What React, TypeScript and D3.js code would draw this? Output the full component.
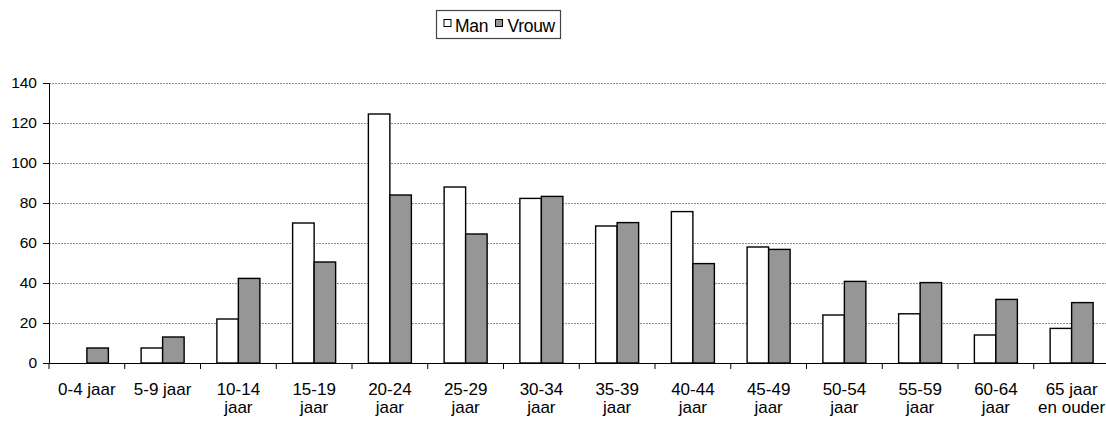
import React, { useEffect, useRef } from "react";
import * as d3 from "d3";

const categories: string[][] = [
  ["0-4 jaar"],
  ["5-9 jaar"],
  ["10-14", "jaar"],
  ["15-19", "jaar"],
  ["20-24", "jaar"],
  ["25-29", "jaar"],
  ["30-34", "jaar"],
  ["35-39", "jaar"],
  ["40-44", "jaar"],
  ["45-49", "jaar"],
  ["50-54", "jaar"],
  ["55-59", "jaar"],
  ["60-64", "jaar"],
  ["65 jaar", "en ouder"],
];

const man = [0, 7.5, 22, 70, 124.5, 88, 82.3, 68.5, 75.7, 58, 24, 24.6, 14, 17.3];
const vrouw = [7.5, 13, 42.3, 50.5, 84, 64.5, 83.3, 70.2, 49.7, 56.8, 40.8, 40.2, 31.8, 30.2];

const seriesNames = ["Man", "Vrouw"];
const seriesFill = ["#ffffff", "#969696"];
const yTicks = [0, 20, 40, 60, 80, 100, 120, 140];

const W = 1106;
const H = 421;
const FONT = "'Liberation Sans', Arial, sans-serif";

export default function App() {
  const ref = useRef<SVGSVGElement>(null);

  useEffect(() => {
    document.body.style.margin = "0";
    const svg = d3.select(ref.current);
    svg.selectAll("*").remove();

    const left = 49;
    const bandW = 75.75;
    const keys = categories.map((_, i) => String(i));
    const x0 = d3
      .scaleBand<string>()
      .domain(keys)
      .range([left, left + bandW * keys.length])
      .padding(0);
    const groupW = 43;
    const x1 = d3.scaleBand<string>().domain(seriesNames).range([0, groupW]).padding(0);
    const y = d3.scaleLinear().domain([0, 140]).range([363, 83]);

    // horizontal gridlines
    svg
      .append("g")
      .selectAll("line")
      .data(yTicks.filter((t) => t > 0))
      .join("line")
      .attr("x1", left)
      .attr("x2", W)
      .attr("y1", (d) => y(d) + 0.5)
      .attr("y2", (d) => y(d) + 0.5)
      .attr("stroke", "#8c8c8c")
      .attr("stroke-width", 1)
      .attr("stroke-dasharray", "2,1");

    // bars
    const data = keys.map((k, i) => ({ k, vals: [man[i], vrouw[i]] }));
    const groups = svg
      .append("g")
      .selectAll("g")
      .data(data)
      .join("g")
      .attr("transform", (d) => `translate(${x0(d.k)! + (bandW - groupW) / 2},0)`);
    groups
      .selectAll("rect")
      .data((d) => d.vals.map((v, j) => ({ v, j })).filter((e) => e.v > 0))
      .join("rect")
      .attr("x", (e) => x1(seriesNames[e.j])!)
      .attr("width", x1.bandwidth())
      .attr("y", (e) => y(e.v))
      .attr("height", (e) => y(0) - y(e.v))
      .attr("fill", (e) => seriesFill[e.j])
      .attr("stroke", "#000")
      .attr("stroke-width", 1.4);

    // y axis
    const yAxis = d3
      .axisLeft(y)
      .tickValues(yTicks)
      .tickSize(6)
      .tickPadding(6);
    const gy = svg.append("g").attr("transform", `translate(${left},0)`).call(yAxis);
    gy.select(".domain").attr("stroke", "#000");
    gy.selectAll(".tick line").attr("stroke", "#000");
    gy.selectAll("text")
      .attr("font-family", FONT)
      .attr("font-size", 15.5)
      .attr("fill", "#000");

    // x axis
    const xAxis = d3.axisBottom(x0).tickSize(0).tickFormat(() => "");
    const gx = svg.append("g").attr("transform", `translate(0,${y(0)})`).call(xAxis);
    gx.select(".domain").attr("stroke", "#000").attr("d", `M${left},0.5H${W}`);
    gx.append("g")
      .selectAll("line")
      .data(d3.range(0, keys.length + 1))
      .join("line")
      .attr("x1", (i) => left + i * bandW)
      .attr("x2", (i) => left + i * bandW)
      .attr("y1", 0)
      .attr("y2", 6)
      .attr("stroke", "#000");

    const labels = svg.append("g");
    categories.forEach((lines, i) => {
      const cx = x0(keys[i])! + bandW / 2;
      lines.forEach((line, li) => {
        labels
          .append("text")
          .attr("x", cx)
          .attr("y", 395 + li * 18)
          .attr("text-anchor", "middle")
          .attr("font-family", FONT)
          .attr("font-size", 17)
          .attr("fill", "#000")
          .text(line);
      });
    });

    // legend
    const lg = svg.append("g");
    lg.append("rect")
      .attr("x", 436.5)
      .attr("y", 10.5)
      .attr("width", 124)
      .attr("height", 28)
      .attr("fill", "#fff")
      .attr("stroke", "#444")
      .attr("stroke-width", 1.2);
    const items = [
      { name: seriesNames[0], sx: 444, tx: 455 },
      { name: seriesNames[1], sx: 495.5, tx: 507.5 },
    ];
    items.forEach((it, j) => {
      lg.append("rect")
        .attr("x", it.sx)
        .attr("y", 19.5)
        .attr("width", 7)
        .attr("height", 7)
        .attr("fill", seriesFill[j])
        .attr("stroke", "#000")
        .attr("stroke-width", 1);
      lg.append("text")
        .attr("x", it.tx)
        .attr("y", 32)
        .attr("font-family", FONT)
        .attr("font-size", 17.5)
        .attr("letter-spacing", -0.3)
        .attr("fill", "#000")
        .text(it.name);
    });
  }, []);

  return <svg ref={ref} width={W} height={H} style={{ display: "block", background: "#fff" }} />;
}
